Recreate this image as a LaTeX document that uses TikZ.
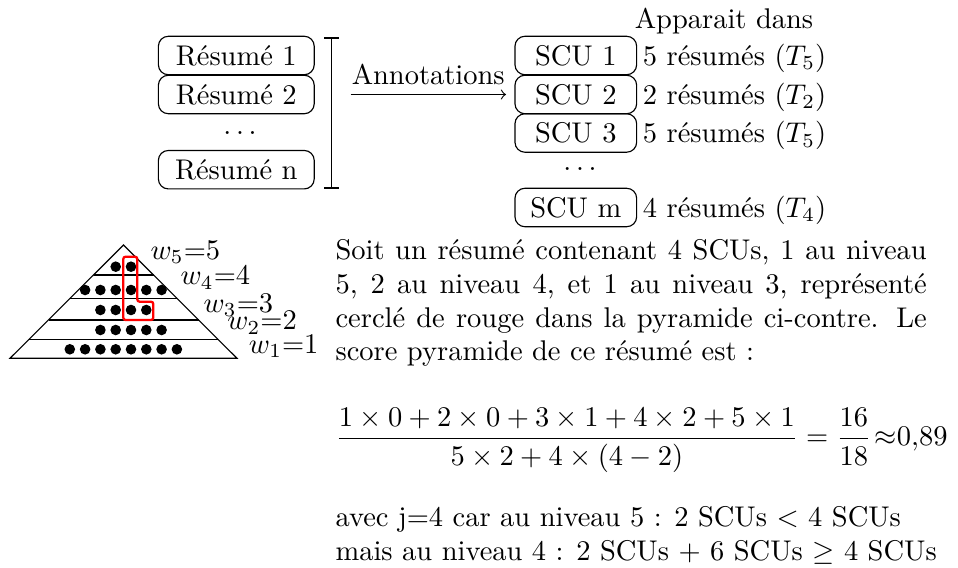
\documentclass[tikz,border=0pt]{standalone}
\usepackage{fontspec}
\begin{document}
\begin{tikzpicture}[x=0.351pt,y=-0.351pt,
  box/.style={draw, rounded corners=3.5pt, minimum height=13.5pt, inner sep=0pt, text height=6.9pt, text depth=0pt},
  rbox/.style={box, minimum width=54.7pt},
  sbox/.style={box, minimum width=42.7pt},
  txt/.style={inner sep=0pt, anchor=base west},
  dotsnode/.style={inner sep=0pt, anchor=base},
  redline/.style={draw=red, line width=0.8pt, rounded corners=0.8pt}
]
\useasboundingbox (0,0) rectangle (958,568);

% summaries
\node[rbox] (r1) at (236.3,55.5) {Résumé 1};
\node[rbox] (r2) at (236.3,94.5) {Résumé 2};
\node[dotsnode] (rd) at (240,134.5) {$\dots$};
\node[rbox] (rn) at (236.3,169.7) {Résumé n};

% bracket
\coordinate (bt) at (331.5,38.3);
\coordinate (bb) at (331.5,188.3);
\draw[line width=0.6pt] (bt) -- (bb)
  ([xshift=-2.6pt]bt) -- ([xshift=2.6pt]bt)
  ([xshift=-2.6pt]bb) -- ([xshift=2.6pt]bb);

% arrow
\coordinate (as) at (350.5,94.5);
\coordinate (ae) at (506,94.5);
\draw[->] (as) -- node[above] {Annotations} (ae);

% SCUs
\node[sbox] (s1) at (575.8,55.5) {SCU 1};
\node[sbox] (s2) at (575.8,94.5) {SCU 2};
\node[sbox] (s3) at (575.8,133) {SCU 3};
\node[dotsnode] (sd) at (580,170.8) {$\dots$};
\node[sbox] (sm) at (575.8,207.5) {SCU m};

\node[inner sep=0pt, anchor=base] (app) at (724,28.5) {Apparait dans};
\node[txt] (t1) at ([xshift=1.8pt]s1.base east) {5 résumés ($T_5$)};
\node[txt] (t2) at ([xshift=1.8pt]s2.base east) {2 résumés ($T_2$)};
\node[txt] (t3) at ([xshift=1.8pt]s3.base east) {5 résumés ($T_5$)};
\node[txt] (tm) at ([xshift=1.8pt]sm.base east) {4 résumés ($T_4$)};

% pyramid
\coordinate (apex) at (123.5,245);
\coordinate (bl) at (10,358.3);
\coordinate (br) at (237,358.3);
\draw (bl) -- (apex) -- (br) -- cycle;
\foreach \yy in {275,298.3,320,339.3}
  \draw ({123.5-(\yy-245)},\yy) -- ({123.5+(\yy-245)},\yy);
\foreach \k in {3,4} \fill ({69.8+15.3*\k},266.7) circle (1.86pt);
\foreach \k in {1,...,6} \fill ({69.8+15.3*\k},290) circle (1.86pt);
\foreach \k in {2,...,5} \fill ({69.8+15.3*\k},310) circle (1.86pt);
\foreach \k in {2,...,6} \fill ({69.8+15.3*\k},330) circle (1.86pt);
\foreach \k in {0,...,7} \fill ({69.8+15.3*\k},349.3) circle (1.86pt);
\path[redline] (123.3,256.7) -- (137.3,256.7) -- (137.3,301.7) -- (153.3,301.7)
  -- (153.3,320) -- (123.3,320) -- cycle;

\node[txt] (w5) at (150,259.3) {$w_5$=5};
\node[txt] (w4) at (180,285) {$w_4$=4};
\node[txt] (w3) at (203,312.7) {$w_3$=3};
\node[txt] (w2) at (226.7,330) {$w_2$=2};
\node[txt] (w1) at (248.3,353.3) {$w_1$=1};

% paragraph
\node[txt] (p1) at (335,259.5) {\makebox[207.5pt][s]{Soit un résumé contenant 4 SCUs, 1 au niveau}};
\node[txt] (p2) at (335,293.3) {\makebox[207.5pt][s]{5, 2 au niveau 4, et 1 au niveau 3, représenté}};
\node[txt] (p3) at (335,327.1) {\makebox[207.5pt][s]{cerclé de rouge dans la pyramide ci-contre. Le}};
\node[txt] (p4) at (335,360.9) {score pyramide de ce résumé est :};

\node[txt] (f) at (335,446) {$\displaystyle\frac{1\times0+2\times0+3\times1+4\times2+5\times1}{5\times2+4\times(4-2)}=\frac{16}{18}\mkern2mu{\approx}0{,}89$};

\node[txt] (l1) at (335,526.7) {avec j=4 car au niveau 5 : 2 SCUs $<$ 4 SCUs};
\node[txt] (l2) at (335,560.7) {mais au niveau 4 : 2 SCUs $+$ 6 SCUs $\geq$ 4 SCUs};
\end{tikzpicture}
\end{document}
